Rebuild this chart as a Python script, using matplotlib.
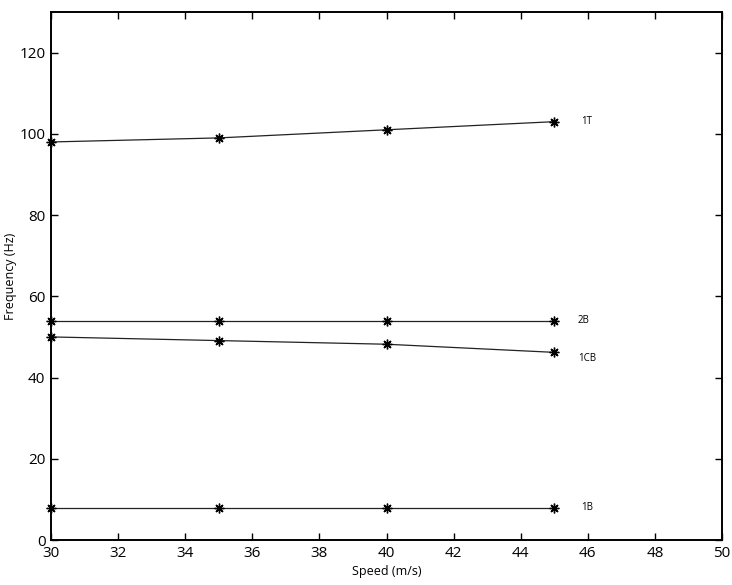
import matplotlib.pyplot as plt

speed = [30, 35, 40, 45]
freq_1t = [98, 99, 101, 103]
freq_2b = [54, 54, 54, 54]
freq_1cb = [50, 49.1, 48.2, 46.2]
freq_1b = [8, 8, 8, 8]

labels = ['1T', '2B', '1CB', '1B']
label_x = [45.8, 45.7, 45.7, 45.8]
label_y = [103, 54, 44.6, 8]


def main():
    plt.rcParams['font.family'] = ['Open Sans', 'DejaVu Sans']
    fig = plt.figure(figsize=(7.32, 5.85), dpi=100)
    ax = fig.add_axes([51 / 732, 45 / 585, 671 / 732, 528 / 585])

    for f in [freq_1t, freq_2b, freq_1cb, freq_1b]:
        ax.plot(speed, f, color='#222222', lw=0.9, marker=(8, 2, 0),
                markersize=7, markeredgewidth=1.0, markeredgecolor='black',
                clip_on=False)

    for lab, x, y in zip(labels, label_x, label_y):
        ax.text(x, y, lab, fontsize=7, va='center', ha='left')

    ax.set_xlim(30, 50)
    ax.set_ylim(0, 130)
    ax.set_xticks(range(30, 51, 2))
    ax.set_yticks(range(0, 121, 20))
    ax.tick_params(direction='in', top=True, right=True, length=5,
                   width=1.0, labelsize=11, pad=4)
    for s in ax.spines.values():
        s.set_linewidth(1.4)
    ax.set_xlabel('Speed (m/s)', fontsize=9, labelpad=3)
    ax.set_ylabel('Frequency (Hz)', fontsize=9, labelpad=2)

    fig.savefig('out.png', dpi=100)


if __name__ == "__main__":
    main()
